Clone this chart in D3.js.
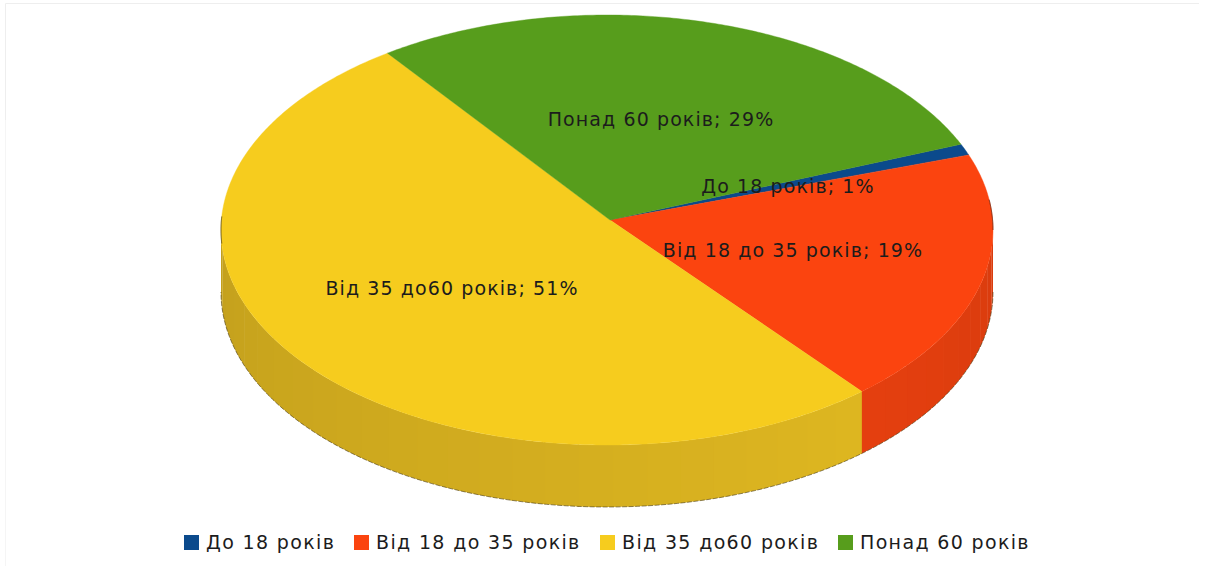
<!DOCTYPE html>
<html><head><meta charset="utf-8">
<script src="https://cdn.jsdelivr.net/npm/d3@7/dist/d3.min.js"></script>
<style>html,body{margin:0;padding:0;background:#fff}svg{display:block}text{font-family:"DejaVu Sans",sans-serif;fill:#1c1c1c;letter-spacing:1.1px}text.leg{letter-spacing:1.35px}</style>
</head><body><svg id="c" width="1205" height="571"></svg>
<script>
const categories = ["До 18 років","Від 18 до 35 років","Від 35 до60 років","Понад 60 років"];
const values = [0.85,19.2,51.85,28.1];
const dataLabels = ["До 18 років; 1%","Від 18 до 35 років; 19%","Від 35 до60 років; 51%","Понад 60 років; 29%"];
const topColors = ["#0b4a8c","#fb440f","#f6cc1e","#579d1c"];
const sideColors = ["#03376b","#d93c0e","#d4ae1f","#457d16"];
const labelAnchors = [[788,186],[793,250],[452,288],[661,119]];
const legendX = [184,354,600,838];

const svg = d3.select("#c");
const W=1205,H=571,cx=607,cy=230,rx=386,ry=215,depth=62,apex=[610,220];
const startDeg=66.5;
const pie=d3.pie().sort(null).value(d=>d).startAngle(startDeg*Math.PI/180).endAngle((startDeg+360)*Math.PI/180);
const arcs=pie(values);
const pt=(t,dy=0)=>[cx+rx*Math.sin(t),cy-ry*Math.cos(t)+dy];
const line=d3.line();
// faint frame: only top and left show in the reference
svg.append("path").attr("d",line([[5.5,120],[5.5,3.5],[1199,3.5]])).attr("fill","none").attr("stroke","#eeeeee");
svg.append("path").attr("d",line([[5.5,120],[5.5,566]])).attr("fill","none").attr("stroke","#f5f5f5");

// side wall: visible from t=90deg to t=270deg
const PI=Math.PI, wallA=PI/2, wallB=3*PI/2, bands=36;
const shade=d3.scaleLinear().domain([PI*0.5,PI*0.75,PI*1.5]).range([1.0,1.05,0.92]);
const g=svg.append("g");
arcs.forEach((a,i)=>{
  for(const off of [0,2*PI]){
    const s=Math.max(a.startAngle-off,wallA), e=Math.min(a.endAngle-off,wallB);
    if(e<=s) continue;
    const base=d3.rgb(sideColors[i]);
    const n=Math.max(1,Math.round((e-s)/(wallB-wallA)*bands));
    d3.range(n).forEach(k=>{
      const t0=s+(e-s)*k/n,t1=s+(e-s)*(k+1)/n+0.004,tm=(t0+t1)/2;
      const f=shade(tm);
      const pts=d3.range(0,5).map(j=>pt(t0+(t1-t0)*j/4));
      const low=d3.range(0,5).map(j=>pt(t1-(t1-t0)*j/4,depth));
      g.append("path").attr("d",line(pts.concat(low))+"Z")
       .attr("fill",d3.rgb(base.r*f,base.g*f,base.b*f).formatHex());
    });
  }
});
// outline of wall
const outline=d3.range(0,121).map(j=>pt(wallA+(wallB-wallA)*j/120,depth));
g.append("path").attr("d",line(outline)).attr("fill","none").attr("stroke","#4a3a10").attr("stroke-width",0.8).attr("stroke-dasharray","5 1.5").attr("opacity",.75);

// top face
arcs.forEach((a,i)=>{
  const n=Math.ceil((a.endAngle-a.startAngle)/0.01);
  const pts=[apex].concat(d3.range(n+1).map(j=>pt(a.startAngle+(a.endAngle-a.startAngle)*j/n)));
  svg.append("path").attr("d",line(pts)+"Z").attr("fill",topColors[i]).attr("stroke",topColors[i]).attr("stroke-width",0.4);
});
// dark rim pieces at the left and right extremes
svg.append("path").attr("d",line(d3.range(0,41).map(j=>pt(1.48*PI+0.04*PI*j/40)))).attr("fill","none").attr("stroke","#3b2f0c").attr("stroke-width",1).attr("opacity",.7);
svg.append("path").attr("d",line(d3.range(0,41).map(j=>pt(0.455*PI+0.045*PI*j/40)))).attr("fill","none").attr("stroke","#5a1a05").attr("stroke-width",1).attr("opacity",.7);

// labels
dataLabels.forEach((s,i)=>{
  svg.append("text").attr("x",labelAnchors[i][0]).attr("y",labelAnchors[i][1]+7).attr("text-anchor","middle").attr("font-size",19).text(s);
});
// legend
categories.forEach((s,i)=>{
  svg.append("rect").attr("x",legendX[i]).attr("y",535).attr("width",15).attr("height",15).attr("fill",topColors[i]);
  svg.append("text").attr("class","leg").attr("x",legendX[i]+22).attr("y",549).attr("font-size",19).text(s);
});
</script></body></html>
